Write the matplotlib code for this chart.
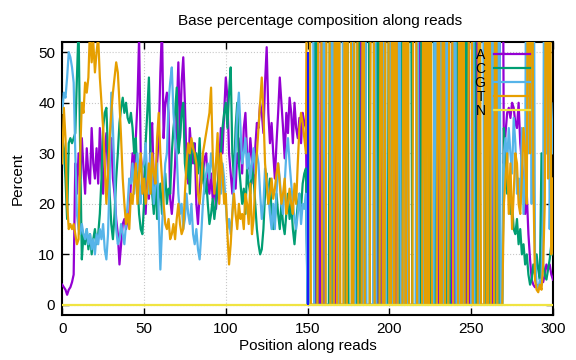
import numpy as np
import matplotlib
matplotlib.use("Agg")
import matplotlib.pyplot as plt

plt.rcParams['font.family'] = ['Liberation Sans', 'DejaVu Sans']
plt.rcParams['font.size'] = 11

# Base percentages at positions 0-149
a_head = [4, 3.5, 3, 2, 3, 3.5, 4.5, 6,
          28, 22, 30, 25, 33, 27, 22, 31, 26, 24, 35, 28,
          25, 31, 24, 35, 27, 22, 30, 34, 26, 31,
          33, 25, 22, 17, 14, 8, 12, 16, 17, 15,
          17, 18, 24, 30, 26, 33, 40, 53, 30, 26,
          22, 18, 26, 21, 33, 36, 24, 20, 28, 33,
          46, 55, 33, 40, 42, 38, 21, 18, 22, 28,
          38, 48, 33, 44, 49, 40, 28, 24, 35, 30,
          28, 32, 20, 16, 22, 28, 26, 29, 30, 24,
          22, 26, 21, 24, 19, 23, 28, 35, 30, 38,
          45, 41, 30, 26, 22, 27, 23, 30, 28, 33,
          26, 35, 38, 30, 27, 33, 29, 24, 31, 36,
          35, 40, 38, 34, 44, 51, 38, 32, 36, 30,
          25, 32, 38, 45, 40, 35, 29, 38, 34, 41,
          38, 32, 40, 35, 33, 37, 32, 38, 36, 35]
c_head = [33, 31, 25, 17, 32, 33, 32, 33, 34, 45,
          55, 30, 9, 14, 12, 15, 11, 14, 10, 13,
          15, 12, 14, 18, 25, 35, 38, 39, 30, 22,
          16, 13, 18, 25, 30, 36, 39, 41, 38, 40,
          37, 36, 38, 35, 30, 33, 24, 18, 15, 14,
          20, 32, 38, 45, 30, 22, 18, 25, 17, 21,
          24, 18, 22, 26, 20, 23, 22, 30, 35, 38,
          43, 30, 33, 38, 40, 28, 25, 30, 22, 31,
          32, 28, 30, 26, 33, 24, 28, 22, 25, 20,
          16, 18, 21, 17, 20, 24, 27, 30, 35, 38,
          40, 35, 42, 47, 30, 25, 35, 40, 28, 24,
          20, 23, 18, 27, 24, 22, 27, 25, 20, 15,
          12, 10, 11, 15, 22, 26, 20, 25, 18, 15,
          17, 22, 18, 15, 20, 16, 14, 18, 22, 17,
          20, 15, 12, 16, 20, 22, 19, 24, 26, 27]
g_head = [38, 42, 41, 45, 50, 49, 47, 44, 30, 18,
          15, 14, 16, 14, 13, 15, 12, 14, 11, 13,
          10, 14, 12, 15, 13, 16, 11, 9, 14, 25,
          42, 35, 25, 15, 12, 13, 16, 14, 12, 16,
          20, 25, 24, 28, 22, 26, 30, 24, 20, 27,
          28, 32, 25, 22, 30, 26, 20, 24, 28, 18,
          7, 15, 22, 28, 30, 40, 44, 47, 38, 33,
          30, 22, 18, 20, 15, 17, 22, 18, 16, 20,
          14, 12, 15, 11, 9, 14, 20, 24, 26, 28,
          25, 30, 27, 24, 28, 30, 26, 22, 28, 25,
          20, 15, 17, 14, 18, 24, 30, 38, 42, 35,
          28, 30, 33, 27, 30, 25, 28, 31, 26, 30,
          28, 22, 17, 20, 27, 25, 22, 18, 15, 20,
          15, 22, 28, 25, 20, 18, 24, 30, 33, 28,
          24, 20, 17, 15, 18, 22, 16, 20, 19, 22]
t_head = [28, 39, 33, 20, 15, 16, 15, 16, 14, 12,
          13, 30, 40, 38, 44, 42, 45, 55, 48, 52,
          46, 50, 53, 45, 40, 35, 28, 20, 26, 33,
          38, 42, 45, 48, 46, 40, 33, 25, 20, 16,
          18, 15, 22, 20, 24, 28, 20, 26, 30, 22,
          25, 20, 23, 28, 22, 30, 26, 24, 33, 38,
          30, 25, 20, 16, 15, 17, 13, 14, 16, 13,
          17, 20, 16, 14, 15, 22, 28, 32, 30, 33,
          31, 30, 28, 22, 20, 24, 30, 32, 34, 36,
          38, 43, 30, 22, 28, 34, 20, 30, 26, 20,
          22, 14, 8, 12, 18, 22, 18, 15, 20, 17,
          18, 15, 22, 20, 16, 24, 14, 17, 24, 30,
          35, 40, 45, 38, 28, 24, 20, 22, 25, 21,
          23, 26, 28, 24, 20, 22, 25, 18, 20, 23,
          20, 18, 24, 20, 28, 35, 38, 36, 33, 30]

# Positions 150-269: low coverage, one base at 100% or nothing ('.')
mid_bases = ("TTGG.CATTA" "G.TTCG.TAT" "GG.TCTT.GT" "TC.ATGCC.T"
             "TG.CAT.GTT" "CGT.TAGC.T" "GTCC.TTGA." "CTGT.TCCG."
             "TAGT.GCTTA" "G.CTGT.CAT" "TGC.ATGG.T" "CTAG.TCGAA")

# Positions 270-300
a_tail = [28, 34, 38, 39, 37, 40, 39, 36, 35, 40, 32, 28, 25, 18, 22, 14,
          9, 5, 4, 3.5, 4, 3.5, 4, 5, 4.5, 6, 8, 7, 8, 6, 5]
c_tail = [35, 30, 22, 25, 18, 20, 15, 14, 17, 12, 15, 10, 12, 8, 10, 6,
          4, 5, 8, 6, 10, 7, 5, 30, 8, 6, 5, 7, 9, 12, 10]
g_tail = [30, 33, 28, 35, 30, 26, 37, 32, 22, 25, 20, 35, 18, 25, 100, 30,
          100, 20, 100, 10, 4, 3, 5, 4, 20, 100, 30, 100, 15, 40, 30]
t_tail = [20, 25, 30, 18, 28, 15, 22, 30, 28, 20, 18, 25, 35, 30, 20, 100,
          30, 100, 25, 5, 3, 2.5, 4, 3, 8, 20, 100, 25, 100, 10, 25]

bases = ["A", "C", "G", "T", "N"]
colors = ["#9400d3", "#009e73", "#56b4e9", "#e69f00", "#f0e442"]
cutoff_pos, cutoff_top = 150, 50

heads = {"A": a_head, "C": c_head, "G": g_head, "T": t_head}
tails = {"A": a_tail, "C": c_tail, "G": g_tail, "T": t_tail}
positions = np.arange(len(a_head) + len(mid_bases) + len(a_tail))

series = {}
for b in "ACGT":
    mid = [100 if m == b else 0 for m in mid_bases]
    series[b] = np.array(heads[b] + mid + tails[b], dtype=float)
series["N"] = np.zeros(len(positions))

fig = plt.figure(figsize=(5.76, 3.6), dpi=100)
ax = fig.add_axes([0.108, 0.125, 0.852, 0.758])

for b, col in zip(bases, colors):
    ax.plot(positions, series[b], color=col, lw=1.6, label=b, zorder=3)
ax.vlines(cutoff_pos, 0, cutoff_top, color="#1a1aff", lw=1.5, zorder=4)

ax.set_xlim(0, 300)
ax.set_ylim(-2, 52)
ax.set_xticks(range(0, 301, 50))
ax.set_yticks(range(0, 51, 10))
ax.tick_params(direction="in", top=True, right=True, length=5, width=1,
               labelsize=11, pad=5)
for s in ax.spines.values():
    s.set_linewidth(1.5)
ax.grid(color="#c8c8c8", linestyle=":", lw=0.8)
ax.set_axisbelow(True)

ax.set_xlabel("Position along reads", fontsize=11, labelpad=2)
ax.set_ylabel("Percent", fontsize=11, labelpad=10)
ax.set_title("Base percentage composition along reads", fontsize=11, pad=12,
             x=0.525)

leg = ax.legend(loc="upper right", bbox_to_anchor=(0.953, 0.978), frameon=False,
                markerfirst=False, handlelength=2.6, labelspacing=0.0,
                handletextpad=0.6, borderaxespad=0, borderpad=0, fontsize=10)
leg.set_zorder(5)

plt.savefig("out.png", dpi=100)
